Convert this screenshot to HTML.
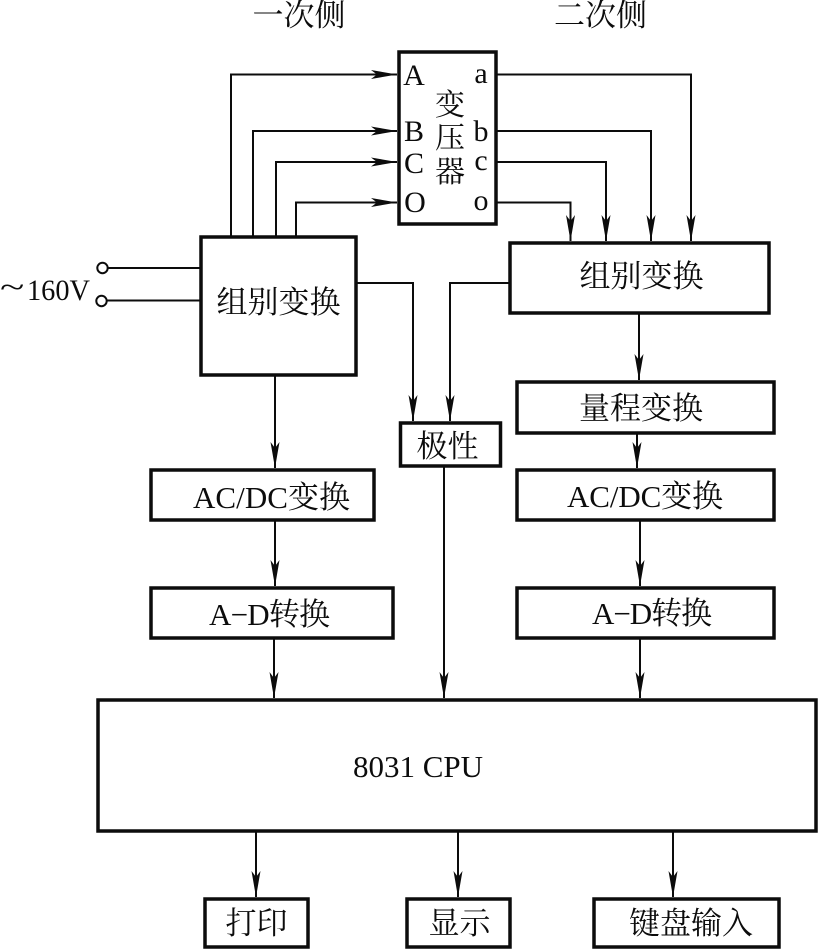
<!DOCTYPE html>
<html>
<head>
<meta charset="utf-8">
<style>
html,body{margin:0;padding:0;background:#fff;}
svg{display:block;}
text{font-family:"Liberation Serif","Noto Serif CJK SC",serif;fill:#0c0c0c;}
</style>
</head>
<body>
<svg width="818" height="949" viewBox="0 0 818 949" xmlns="http://www.w3.org/2000/svg">
<defs>
<marker id="a" markerUnits="userSpaceOnUse" markerWidth="26" markerHeight="10" refX="26" refY="5" orient="auto">
<path d="M0 .5L26 5L0 9.500L6 5Z" fill="#0c0c0c"/>
</marker>
</defs>
<g fill="none" stroke="#0c0c0c" stroke-width="3.500">
<rect x="399" y="52" width="97" height="172"/>
<rect x="201" y="237" width="155" height="138"/>
<rect x="510" y="243" width="259" height="70"/>
<rect x="517" y="382" width="257" height="51"/>
<rect x="400.500" y="423" width="100" height="43"/>
<rect x="151" y="470" width="223" height="50"/>
<rect x="517" y="470" width="257" height="50"/>
<rect x="151" y="588" width="242" height="50"/>
<rect x="517" y="588" width="257" height="50"/>
<rect x="98" y="700" width="718" height="131"/>
<rect x="205" y="899" width="103" height="48"/>
<rect x="407" y="899" width="103" height="48"/>
<rect x="594" y="899" width="185" height="48"/>
</g>
<g fill="none" stroke="#0c0c0c" stroke-width="2">
<path d="M231 237V74.500H397" marker-end="url(#a)"/>
<path d="M253 237V131H397" marker-end="url(#a)"/>
<path d="M276 237V162H397" marker-end="url(#a)"/>
<path d="M296 237V202.500H397" marker-end="url(#a)"/>
<path d="M496 74.500H691V241" marker-end="url(#a)"/>
<path d="M496 131H651V241" marker-end="url(#a)"/>
<path d="M496 162H606V241" marker-end="url(#a)"/>
<path d="M496 202.500H570.500V241" marker-end="url(#a)"/>
<path d="M107 268H201M107 300.500H201"/>
<path d="M356 283H413V421" marker-end="url(#a)"/>
<path d="M510 283H450V421" marker-end="url(#a)"/>
<path d="M639 313V380" marker-end="url(#a)"/>
<path d="M637 433V468" marker-end="url(#a)"/>
<path d="M275 375V468" marker-end="url(#a)"/>
<path d="M275 520V586" marker-end="url(#a)"/>
<path d="M640 520V586" marker-end="url(#a)"/>
<path d="M274 638V698" marker-end="url(#a)"/>
<path d="M444 466V698" marker-end="url(#a)"/>
<path d="M640 638V698" marker-end="url(#a)"/>
<path d="M256 831V897" marker-end="url(#a)"/>
<path d="M458 831V897" marker-end="url(#a)"/>
<path d="M673 831V897" marker-end="url(#a)"/>
</g>
<circle cx="102.500" cy="268" r="5.200" fill="#fff" stroke="#0c0c0c" stroke-width="2"/>
<circle cx="101.500" cy="301" r="5.200" fill="#fff" stroke="#0c0c0c" stroke-width="2"/>
<g font-size="31" text-anchor="middle">
<text x="299" y="26">一次侧</text>
<text x="600.500" y="26">二次侧</text>
<text x="278.500" y="313">组别变换</text>
<text x="641.500" y="287">组别变换</text>
<text x="641" y="419">量程变换</text>
<text x="447.500" y="457">极性</text>
<text x="271.500" y="508" textLength="157">AC/DC变换</text>
<text x="645" y="507" textLength="156">AC/DC变换</text>
<text x="269.500" y="625" textLength="121">A−D转换</text>
<text x="652" y="624" textLength="120">A−D转换</text>
<text x="418" y="777" textLength="130">8031 CPU</text>
<text x="256.500" y="934">打印</text>
<text x="459.500" y="934">显示</text>
<text x="691" y="934">键盘输入</text>
</g>
<g font-size="30" text-anchor="middle">
<text x="414" y="85">A</text>
<text x="414" y="141">B</text>
<text x="414" y="173">C</text>
<text x="415" y="212">O</text>
<text x="481" y="83">a</text>
<text x="481" y="141">b</text>
<text x="481" y="170">c</text>
<text x="481" y="210">o</text>
</g>
<g font-size="30" text-anchor="middle">
<text x="450" y="115">变</text>
<text x="450" y="148">压</text>
<text x="450" y="182">器</text>
</g>
<text font-size="30" transform="translate(0,297) scale(1.5,1)">~</text>
<text x="27" y="300" font-size="30" textLength="63" lengthAdjust="spacingAndGlyphs">160V</text>
</svg>
</body>
</html>
